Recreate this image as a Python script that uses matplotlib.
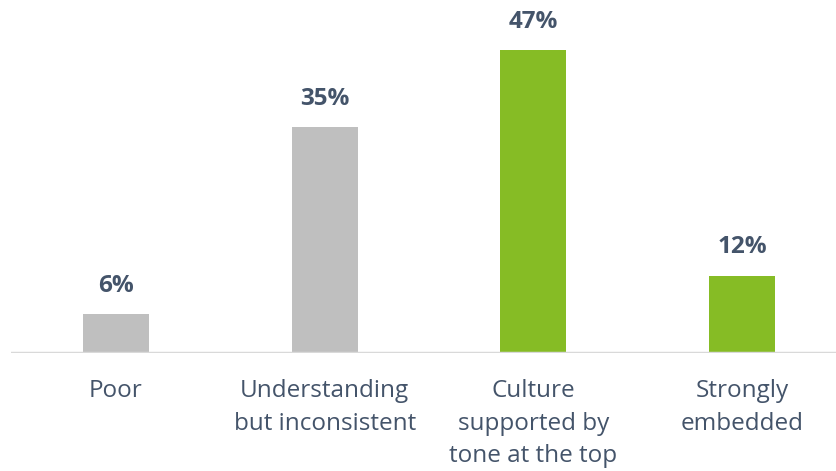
import numpy as np
import matplotlib.pyplot as plt

categories = ["Poor", "Understanding\nbut inconsistent", "Culture\nsupported by\ntone at the top", "Strongly\nembedded"]
values = [6, 35, 47, 12]
colors = ["#bfbfbf", "#bfbfbf", "#86bc25", "#86bc25"]

text_col = "#44546a"
plt.rcParams['font.family'] = ['Open Sans', 'DejaVu Sans']

fig = plt.figure(figsize=(8.36, 4.71), dpi=100)
ax = fig.add_axes([11 / 836, 118 / 471, 1 - 11 / 836, 1 - 118 / 471])

x = np.arange(len(values))
ax.bar(x, values, width=0.316, color=colors, zorder=2)
# value labels above each bar
for xi, v in zip(x, values):
    ax.text(xi, v + 2.5, f"{v}%", ha='center', va='bottom', fontsize=17.5,
            fontweight='bold', color=text_col)

ax.set_xlim(-0.503, 3.45)
ax.set_ylim(0, 54.7)
ax.axhline(0, color="#d9d9d9", lw=2.5, zorder=3)

for xi, lab in zip(x, categories):
    ax.text(xi, -4.1, lab, ha='center', va='top', fontsize=17.5,
            color=text_col, linespacing=1.47)

ax.set_xticks([])
ax.set_yticks([])
for s in ax.spines.values():
    s.set_visible(False)

fig.savefig("out.png", dpi=100)
